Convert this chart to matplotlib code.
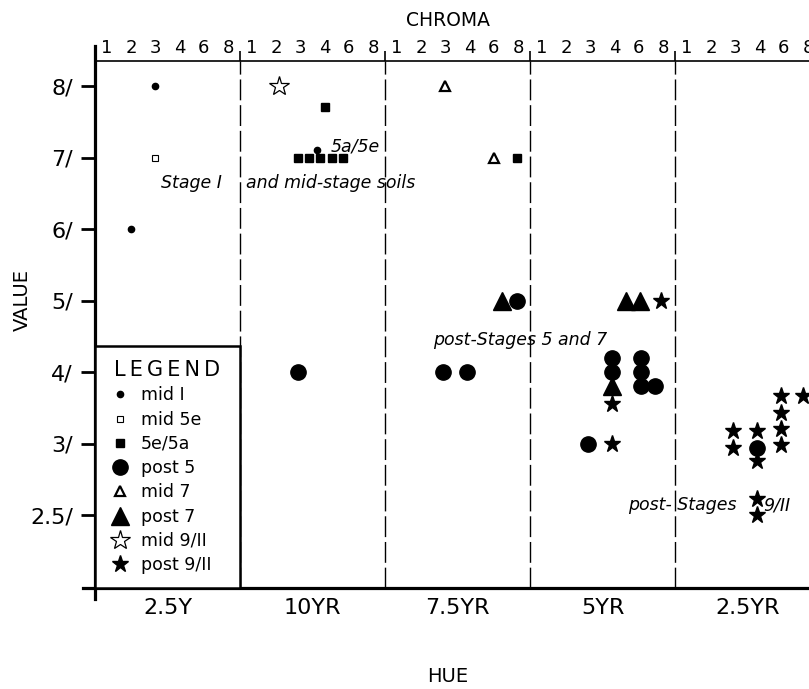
"""
Munsell colour of soil horizons by stage: hue panels x chroma, against value -> out.png
"""
import numpy as np
import matplotlib
matplotlib.use("Agg")
import matplotlib.pyplot as plt
from matplotlib.lines import Line2D

HUES = ["2.5Y", "10YR", "7.5YR", "5YR", "2.5YR"]
CHROMA_TICKS = [1, 2, 3, 4, 6, 8]
VALUE_TICKS = [8, 7, 6, 5, 4, 3, 2.5]
VALUE_LABELS = ["8/", "7/", "6/", "5/", "4/", "3/", "2.5/"]

# (hue index, chroma, value) per symbol group
mid1_hue = [0, 0, 1]
mid1_chroma = [3, 2, 3.7]
mid1_value = [8, 6, 7.1]

mid5e_hue = [0]
mid5e_chroma = [3]
mid5e_value = [7]

s5ea_hue = [1, 1, 1, 1, 1, 1, 2]
s5ea_chroma = [4, 2.9, 3.35, 3.8, 4.6, 5.5, 7.9]
s5ea_value = [7.7, 7, 7, 7, 7, 7, 7]

post5_hue = [1, 2, 2, 2, 3, 3, 3, 3, 3, 3, 3, 4]
post5_chroma = [2.9, 7.9, 2.9, 3.9, 3.9, 3.9, 2.9, 6.2, 6.2, 6.2, 7.3, 3.9]
post5_value = [4, 5, 4, 4, 4.2, 4, 3, 4.2, 4, 3.8, 3.8, 2.97]

mid7_hue = [2, 2]
mid7_chroma = [3, 6]
mid7_value = [8, 7]

post7_hue = [2, 3, 3, 3]
post7_chroma = [6.7, 4.9, 6.1, 3.9]
post7_value = [5, 5, 5, 3.8]

mid9_hue = [1]
mid9_chroma = [2.1]
mid9_value = [8]

post9_hue = [3, 3, 3, 4, 4, 4, 4, 4, 4, 4, 4, 4, 4, 4]
post9_chroma = [7.8, 3.9, 3.9, 2.9, 2.9, 3.9, 3.9, 3.9, 3.9, 5.8, 5.8, 5.8, 5.8, 7.6]
post9_value = [5, 3.55, 3.0, 3.17, 2.97, 3.17, 2.88, 2.61, 2.49, 3.66, 3.43, 3.2, 2.99, 3.66]


def xpos(hue, chroma):
    return 6 * np.asarray(hue) + 0.5 + np.interp(chroma, CHROMA_TICKS, np.arange(6))


def ypos(value):
    return np.interp(value, [2.5, 3, 4, 5, 6, 7, 8], [2, 3, 4, 5, 6, 7, 8])


plt.rcParams["font.family"] = "DejaVu Sans"
fig = plt.figure(figsize=(8.09, 6.89), dpi=100)
ax = fig.add_axes([95 / 809, 101 / 689, 714 / 809, 527 / 689])
ax.set_xlim(0, 29.54)
ax.set_ylim(0.98, 8.35)

groups = [
    (mid1_hue, mid1_chroma, mid1_value, "mid I", dict(marker="o", ms=4.5, color="black", mfc="black")),
    (mid5e_hue, mid5e_chroma, mid5e_value, "mid 5e", dict(marker="s", ms=5, color="black", mfc="white", mew=0.8)),
    (s5ea_hue, s5ea_chroma, s5ea_value, "5e/5a", dict(marker="s", ms=5.5, color="black", mfc="black")),
    (post5_hue, post5_chroma, post5_value, "post 5", dict(marker="o", ms=11, color="black", mfc="black")),
    (mid7_hue, mid7_chroma, mid7_value, "mid 7", dict(marker="^", ms=7, color="black", mfc="white", mew=1.6)),
    (post7_hue, post7_chroma, post7_value, "post 7", dict(marker="^", ms=12.5, color="black", mfc="black")),
    (mid9_hue, mid9_chroma, mid9_value, "mid 9/II", dict(marker="*", ms=14.5, color="black", mfc="white", mew=0.9)),
    (post9_hue, post9_chroma, post9_value, "post 9/II", dict(marker="*", ms=12.5, color="black", mfc="black")),
]
handles = []
for hue, chroma, value, label, style in groups:
    ax.plot(xpos(hue, chroma), ypos(value), ls="none", zorder=3, **style)
    handles.append(Line2D([], [], ls="none", label=label, **style))

# hue panel separators
for b in range(1, len(HUES)):
    ax.axvline(6 * b, color="black", lw=1.0, dashes=(15, 3.5), zorder=1)

# axes frame
for s in ["left", "bottom", "right"]:
    ax.spines[s].set_visible(False)
ax.spines["top"].set_linewidth(1.2)
ax.plot([0, 0], [-0.02, 1.028], transform=ax.transAxes, color="black", lw=2.3, clip_on=False, zorder=5)
ax.plot([-0.017, 1], [0, 0], transform=ax.transAxes, color="black", lw=2.3, clip_on=False, zorder=5)

# value axis
ax.set_yticks(ypos(VALUE_TICKS))
ax.set_yticklabels(VALUE_LABELS, fontsize=16)
ax.tick_params(axis="y", length=10, width=2, pad=6)

# hue labels along bottom
ax.set_xticks([6 * i + 3 for i in range(len(HUES))])
ax.set_xticklabels(HUES, fontsize=16)
ax.tick_params(axis="x", length=0, pad=7)

# chroma scale on top
top = ax.secondary_xaxis("top")
top.set_xticks([6 * i + 0.5 + j for i in range(len(HUES)) for j in range(6)])
top.set_xticklabels([str(c) for _ in HUES for c in CHROMA_TICKS], fontsize=13)
top.set_xticks([6 * b for b in range(1, len(HUES))], minor=True)
top.tick_params(axis="x", which="major", length=0, pad=3)
top.tick_params(axis="x", which="minor", length=7, width=1.2)
top.spines["top"].set_visible(False)

fig.text(448 / 809, 1 - 20 / 689, "CHROMA", ha="center", va="center", fontsize=13.5)
fig.text(448 / 809, 1 - 677 / 689, "HUE", ha="center", va="center", fontsize=14)
fig.text(22 / 809, 1 - 300 / 689, "VALUE", ha="center", va="center", rotation=90, fontsize=14)

# annotations
it = dict(style="italic", fontsize=12.5, va="center", zorder=4)
ax.text(9.76, ypos(7.16), "5a/5e", **it)
ax.text(2.73, ypos(6.64), "Stage I", **it)
ax.text(6.25, ypos(6.64), "and mid-stage soils", **it)
ax.text(13.98, ypos(4.45), "post-Stages 5 and 7", **it)
ax.text(22.05, ypos(2.57), "post- Stages", **it)
ax.text(27.64, ypos(2.57), "9/II", **it)

leg = ax.legend(
    handles=handles, title="\u2009".join("LEGEND"), loc="lower left",
    bbox_to_anchor=(0.0, 0.0, 6 / 29.54, 0.4), mode="expand", borderaxespad=0,
    fontsize=12.5, title_fontsize=15, fancybox=False, framealpha=1,
    edgecolor="black", borderpad=0.8, labelspacing=0.36, handlelength=1.3,
    handletextpad=0.55,
)
leg.get_frame().set_linewidth(1.8)
leg.set_zorder(6)

fig.savefig("out.png", dpi=100)
